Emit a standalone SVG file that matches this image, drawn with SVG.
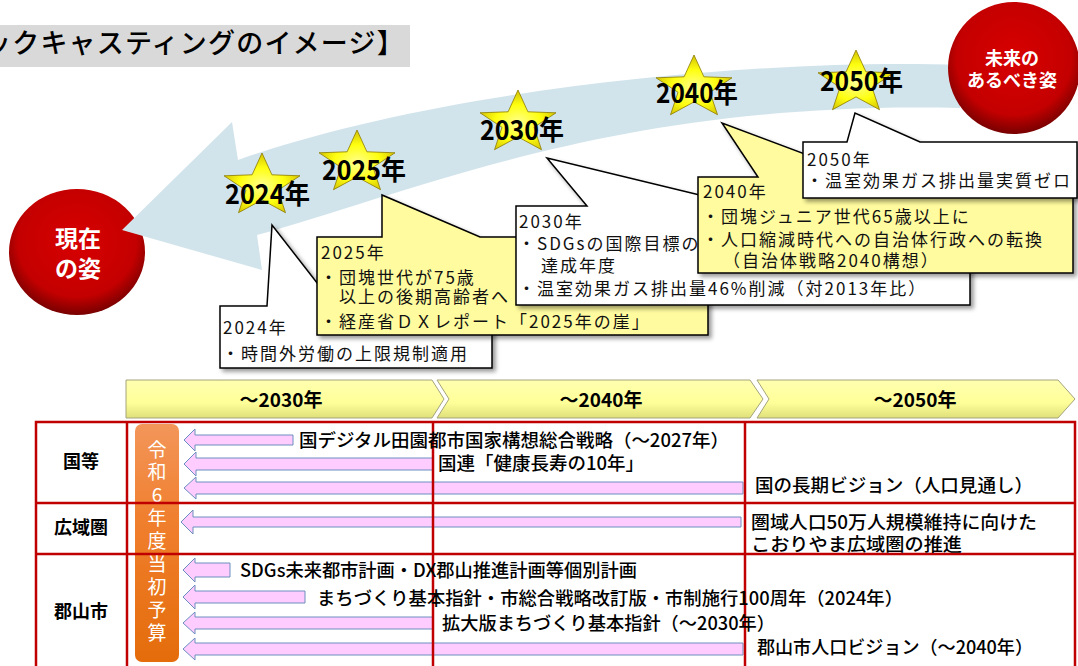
<svg xmlns="http://www.w3.org/2000/svg" width="1078" height="666" viewBox="0 0 1078 666">
<defs>
<style>
text { font-family: 'Noto Sans CJK JP', 'Noto Sans', sans-serif; }
.title { font-size:27px; font-weight:500; fill:#000; letter-spacing:1.2px; }
.yr { font-size:27px; font-weight:700; fill:#000; }
.co { font-size:17px; letter-spacing:2px; fill:#111; }
.wbox { fill:#ffffff; stroke:#000; stroke-width:1.5; filter:url(#sh); }
.ybox { fill:#fffb9e; stroke:#000; stroke-width:1.5; filter:url(#sh); }
.chev { fill:url(#chevGrad); stroke:#a4a47c; stroke-width:1; }
.chevt { font-size:19px; font-weight:700; text-anchor:middle; fill:#000; }
.grid { stroke:#c00000; stroke-width:2.5; fill:none; }
.lbl { font-size:18px; font-weight:700; text-anchor:middle; fill:#000; }
.arr { fill:#ffccff; stroke:#6c8ebf; stroke-width:1; }
.tt { font-size:18px; font-weight:500; fill:#000; }
.vt { font-size:19px; fill:#fff; text-anchor:middle; }
.ct { font-weight:700; fill:#fff; text-anchor:middle; }
.star { fill:url(#starGrad); stroke:#8c7a00; stroke-width:0.8; }
</style>
<filter id="sh" x="-5%" y="-5%" width="115%" height="125%">
<feDropShadow dx="3" dy="3" stdDeviation="2" flood-color="#000" flood-opacity="0.4"/>
</filter>
<radialGradient id="redGrad" cx="50%" cy="42%" r="58%">
<stop offset="0" stop-color="#d80000"/>
<stop offset="0.75" stop-color="#c40000"/>
<stop offset="1" stop-color="#780000"/>
</radialGradient>
<radialGradient id="starGrad" cx="50%" cy="55%" r="60%">
<stop offset="0" stop-color="#ffff90"/>
<stop offset="0.5" stop-color="#ffff10"/>
<stop offset="1" stop-color="#c8b400"/>
</radialGradient>
<linearGradient id="chevGrad" x1="0" y1="0" x2="0" y2="1">
<stop offset="0" stop-color="#ffffb0"/>
<stop offset="0.6" stop-color="#ffff99"/>
<stop offset="1" stop-color="#e0e07a"/>
</linearGradient>
<linearGradient id="orGrad" x1="0" y1="0" x2="0" y2="1">
<stop offset="0" stop-color="#f3965a"/>
<stop offset="0.4" stop-color="#f07f2e"/>
<stop offset="1" stop-color="#e46c0a"/>
</linearGradient>
<path id="star" d="M0,-33 L9.9,-11.2 L38,-10.2 L16,4.3 L23.5,26.7 L0,13.9 L-23.5,26.7 L-16,4.3 L-38,-10.2 L-9.9,-11.2 Z"/>
</defs>

<g id="title">
<rect x="0" y="25" width="410" height="42" fill="#d9d9d9"/>
<text class="title" x="-16" y="53">ックキャスティングのイメージ】</text>
</g>

<g id="now">
<ellipse cx="77" cy="252" rx="68" ry="63" fill="url(#redGrad)"/>
<text class="ct" x="78" y="247" font-size="23">現在</text>
<text class="ct" x="78" y="277" font-size="23">の姿</text>
</g>

<g id="connectors">
<path id="band" d="M960,65 C780,58 450,85 238,160 L232,122 L122,230 L262,270 L257,235 C420,190 620,100 960,108 Z" fill="#d2e4eb"/>
</g>

<g id="future">
<circle cx="1014" cy="68" r="66" fill="url(#redGrad)"/>
<text class="ct" x="1012" y="65" font-size="18">未来の</text>
<text class="ct" x="1012" y="87" font-size="18">あるべき姿</text>
</g>

<g id="star2024"><use href="#star" class="star" transform="translate(262,186)"/><text class="yr" x="225" y="204" textLength="85" lengthAdjust="spacingAndGlyphs">2024年</text></g>
<g id="star2025"><use href="#star" class="star" transform="translate(357,163)"/><text class="yr" x="322" y="180" textLength="84" lengthAdjust="spacingAndGlyphs">2025年</text></g>
<g id="star2030"><use href="#star" class="star" transform="translate(518,123)"/><text class="yr" x="480" y="140" textLength="84" lengthAdjust="spacingAndGlyphs">2030年</text></g>
<g id="star2040"><use href="#star" class="star" transform="translate(694,88)"/><text class="yr" x="656" y="103" textLength="82" lengthAdjust="spacingAndGlyphs">2040年</text></g>
<g id="star2050"><use href="#star" class="star" transform="translate(856,83)"/><text class="yr" x="820" y="91" textLength="83" lengthAdjust="spacingAndGlyphs">2050年</text></g>

<g id="call2024">
<path class="wbox" d="M220,306 L267,306 L272,225 L335,306 L492,306 L492,368 L220,368 Z"/>
<text class="co" x="223" y="334">2024年</text>
<text class="co" x="222" y="360">・時間外労働の上限規制適用</text>
</g>
<g id="call2025">
<path class="ybox" d="M317,237 L382,237 L382,195 L480,237 L708,237 L708,335 L317,335 Z"/>
<text class="co" x="321" y="259">2025年</text>
<text class="co" x="320" y="284">・団塊世代が75歳</text>
<text class="co" x="339" y="303">以上の後期高齢者へ</text>
<text class="co" x="320" y="328">・経産省ＤＸレポート「2025年の崖」</text>
</g>
<g id="call2030">
<path class="wbox" d="M516,206 L587,206 L547,158 L745,206 L970,206 L970,305 L516,305 Z"/>
<text class="co" x="519" y="228">2030年</text>
<text class="co" x="518" y="250">・SDGsの国際目標の</text>
<text class="co" x="541" y="272">達成年度</text>
<text class="co" x="518" y="295">・温室効果ガス排出量46%削減（対2013年比）</text>
</g>
<g id="call2040">
<path class="ybox" d="M698,177 L758,177 L722,123 L866,177 L1073,177 L1073,273 L698,273 Z"/>
<text class="co" x="703" y="198">2040年</text>
<text class="co" x="702" y="223">・団塊ジュニア世代65歳以上に</text>
<text class="co" x="702" y="246">・人口縮減時代への自治体行政への転換</text>
<text class="co" x="723" y="267">（自治体戦略2040構想）</text>
</g>
<g id="call2050">
<path class="wbox" d="M803,142 L847,142 L855,113 L920,142 L1077,142 L1077,198 L803,198 Z"/>
<text class="co" x="807" y="166">2050年</text>
<text class="co" x="806" y="187">・温室効果ガス排出量実質ゼロ</text>
</g>

<g id="periods">
<path class="chev" d="M126,380 L432,380 L444,399 L432,418 L126,418 Z"/>
<path class="chev" d="M437,380 L750,380 L763,399 L750,418 L437,418 L449,399 Z"/>
<path class="chev" d="M757,380 L1058,380 L1075,399 L1058,418 L757,418 L769,399 Z"/>
<text class="chevt" x="281" y="407">～2030年</text>
<text class="chevt" x="601" y="407">～2040年</text>
<text class="chevt" x="915" y="407">～2050年</text>
</g>

<g id="budget">
<rect x="135" y="424" width="44" height="238" rx="7" fill="url(#orGrad)"/>
<text class="vt" x="157" y="457">令</text>
<text class="vt" x="157" y="479">和</text>
<text class="vt" x="157" y="502">6</text>
<text class="vt" x="157" y="525">年</text>
<text class="vt" x="157" y="548">度</text>
<text class="vt" x="157" y="571">当</text>
<text class="vt" x="157" y="594">初</text>
<text class="vt" x="157" y="617">予</text>
<text class="vt" x="157" y="640">算</text>
</g>

<g id="arrows">
<path class="arr" d="M184,440 L195,429 L195,435 L293,435 L293,445 L195,445 L195,451 Z"/>
<path class="arr" d="M184,464 L196,452 L196,458 L433,458 L433,470 L196,470 L196,476 Z"/>
<path class="arr" d="M184,488 L196,477 L196,482 L743,482 L743,494 L196,494 L196,499 Z"/>
<path class="arr" d="M181,522 L193,510 L193,517 L741,517 L741,527 L193,527 L193,534 Z"/>
<path class="arr" d="M183,570 L195,558 L195,563 L230,563 L230,577 L195,577 L195,582 Z"/>
<path class="arr" d="M183,597 L195,585 L195,591 L305,591 L305,603 L195,603 L195,609 Z"/>
<path class="arr" d="M183,623 L195,612 L195,617 L433,617 L433,629 L195,629 L195,634 Z"/>
<path class="arr" d="M183,649 L195,638 L195,643 L743,643 L743,655 L195,655 L195,660 Z"/>
</g>

<g id="grid">
<rect class="grid" x="36" y="422" width="1039" height="260"/>
<line class="grid" x1="127" y1="422" x2="127" y2="666"/>
<line class="grid" x1="433" y1="422" x2="433" y2="666"/>
<line class="grid" x1="745" y1="422" x2="745" y2="666"/>
<line class="grid" x1="36" y1="503" x2="1075" y2="503"/>
<line class="grid" x1="36" y1="554" x2="1075" y2="554"/>
</g>

<g id="rowlabels">
<text class="lbl" x="81" y="468">国等</text>
<text class="lbl" x="81" y="534">広域圏</text>
<text class="lbl" x="81" y="618">郡山市</text>
</g>

<g id="items">
<text class="tt" x="299" y="447" textLength="430" lengthAdjust="spacingAndGlyphs">国デジタル田園都市国家構想総合戦略（～2027年）</text>
<text class="tt" x="438" y="470" textLength="206" lengthAdjust="spacingAndGlyphs">国連「健康長寿の10年」</text>
<text class="tt" x="755" y="492" textLength="278" lengthAdjust="spacingAndGlyphs">国の長期ビジョン（人口見通し）</text>
<text class="tt" x="751" y="529" textLength="286" lengthAdjust="spacingAndGlyphs">圏域人口50万人規模維持に向けた</text>
<text class="tt" x="751" y="551" textLength="211" lengthAdjust="spacingAndGlyphs">こおりやま広域圏の推進</text>
<text class="tt" x="240" y="577" textLength="397" lengthAdjust="spacingAndGlyphs">SDGs未来都市計画・DX郡山推進計画等個別計画</text>
<text class="tt" x="317" y="605" textLength="586" lengthAdjust="spacingAndGlyphs">まちづくり基本指針・市総合戦略改訂版・市制施行100周年（2024年）</text>
<text class="tt" x="442" y="630" textLength="333" lengthAdjust="spacingAndGlyphs">拡大版まちづくり基本指針（～2030年）</text>
<text class="tt" x="757" y="654" textLength="276" lengthAdjust="spacingAndGlyphs">郡山市人口ビジョン（～2040年）</text>
</g>
</svg>
